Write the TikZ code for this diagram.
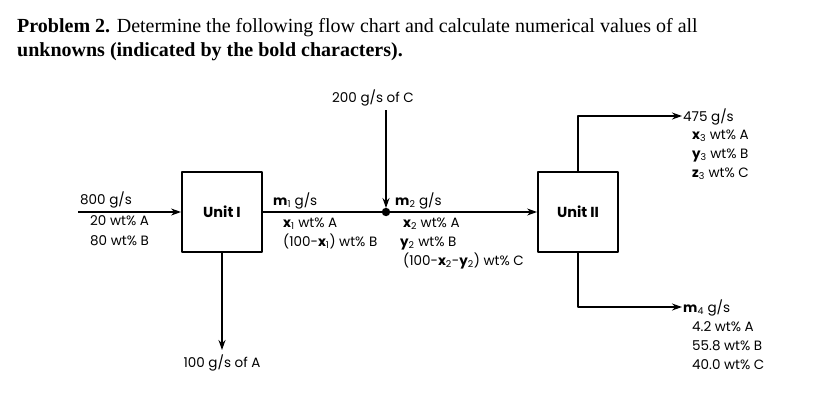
\documentclass[tikz,border=0pt]{standalone}
\usepackage{fontspec}
\setmainfont{Poppins}
\newfontfamily\titlefont{Liberation Serif}
\usetikzlibrary{arrows.meta}
\newcommand{\lblsize}{\fontsize{13.5}{16}\selectfont}
\newcommand{\bv}[2]{\textbf{#1}\textsubscript{#2}}
\tikzset{
  every picture/.style = {font=\lblsize, line join=round},
  flow/.style          = {line width=1.4pt},
  feed/.style          = {flow, -{Stealth[length=10pt, width=7pt]}},
  unit/.style          = {draw, line width=1.8pt, minimum width=80pt, minimum height=80pt,
                          font=\fontsize{14.5}{17}\selectfont\bfseries},
  lbl/.style           = {anchor=base west, inner sep=0pt},
}

\begin{document}
\begin{tikzpicture}[x=1pt, y=-1pt]
  \useasboundingbox (0,0) rectangle (837,405);

  % ---------- problem statement ----------------------------------------------
  \node[lbl, font=\titlefont\fontsize{20}{24}\selectfont] (head1) at (17,32)
    {\textbf{Problem 2.} Determine the following flow chart and calculate numerical values of all};
  \node[lbl, font=\titlefont\fontsize{20}{24}\selectfont\bfseries] (head2) at (17,56)
    {unknowns (indicated by the bold characters).};

  % ---------- units and the mixing point -------------------------------------
  \node[unit] (unitI)  at (222,212) {Unit I};
  \node[unit] (unitII) at (578,212) {Unit II};
  \fill (386,212) circle (4.2);
  \coordinate (mix) at (386,212);

  % free ends and bends of the streams
  \coordinate (feedin) at (78,212);
  \coordinate (Ctop)   at (386,110);
  \coordinate (Aout)   at (222,350);
  \coordinate (upbend) at (578,116);
  \coordinate (upend)  at (682,116);
  \coordinate (dnbend) at (578,307);
  \coordinate (dnend)  at (682,307);

  \draw[feed] (feedin) -- (unitI.west);
  \draw[flow] (unitI.east) -- (mix);
  \draw[feed] (mix) -- (unitII.west);
  \draw[feed] (Ctop) -- ([yshift=4pt]mix);
  \draw[feed] (unitI.south) -- (Aout);
  \draw[feed] (unitII.north -| upbend) -- (upbend) -- (upend);
  \draw[feed] (unitII.south -| dnbend) -- (dnbend) -- (dnend);

  % ---------- stream labels --------------------------------------------------
  \node[lbl] (f1) at (80,204)  {800 g/s};
  \node[lbl] (f2) at (90,225)  {20 wt\% A};
  \node[lbl] (f3) at (90,245)  {80 wt\% B};

  \node[anchor=base] (cin)  at (373,102) {200 g/s of C};
  \node[anchor=base] (aout) at (222,367) {100 g/s of A};

  \node[lbl] (s1a) at (273,205) {\bv{m}{1} g/s};
  \node[lbl] (s1b) at (283,227) {\bv{x}{1} wt\% A};
  \node[lbl] (s1c) at (283,246) {(100-\bv{x}{1}) wt\% B};

  \node[lbl] (s2a) at (395,205) {\bv{m}{2} g/s};
  \node[lbl] (s2b) at (403,227) {\bv{x}{2} wt\% A};
  \node[lbl] (s2c) at (400,246) {\bv{y}{2} wt\% B};
  \node[lbl] (s2d) at (403,265) {(100-\bv{x}{2}-\bv{y}{2}) wt\% C};

  \node[lbl] (s3a) at (683,121) {475 g/s};
  \node[lbl] (s3b) at (692,139) {\bv{x}{3} wt\% A};
  \node[lbl] (s3c) at (692,158) {\bv{y}{3} wt\% B};
  \node[lbl] (s3d) at (692,177) {\bv{z}{3} wt\% C};

  \node[lbl] (s4a) at (683,312) {\bv{m}{4} g/s};
  \node[lbl] (s4b) at (692,331) {4.2 wt\% A};
  \node[lbl] (s4c) at (692,350) {55.8 wt\% B};
  \node[lbl] (s4d) at (692,369) {40.0 wt\% C};
\end{tikzpicture}
\end{document}
